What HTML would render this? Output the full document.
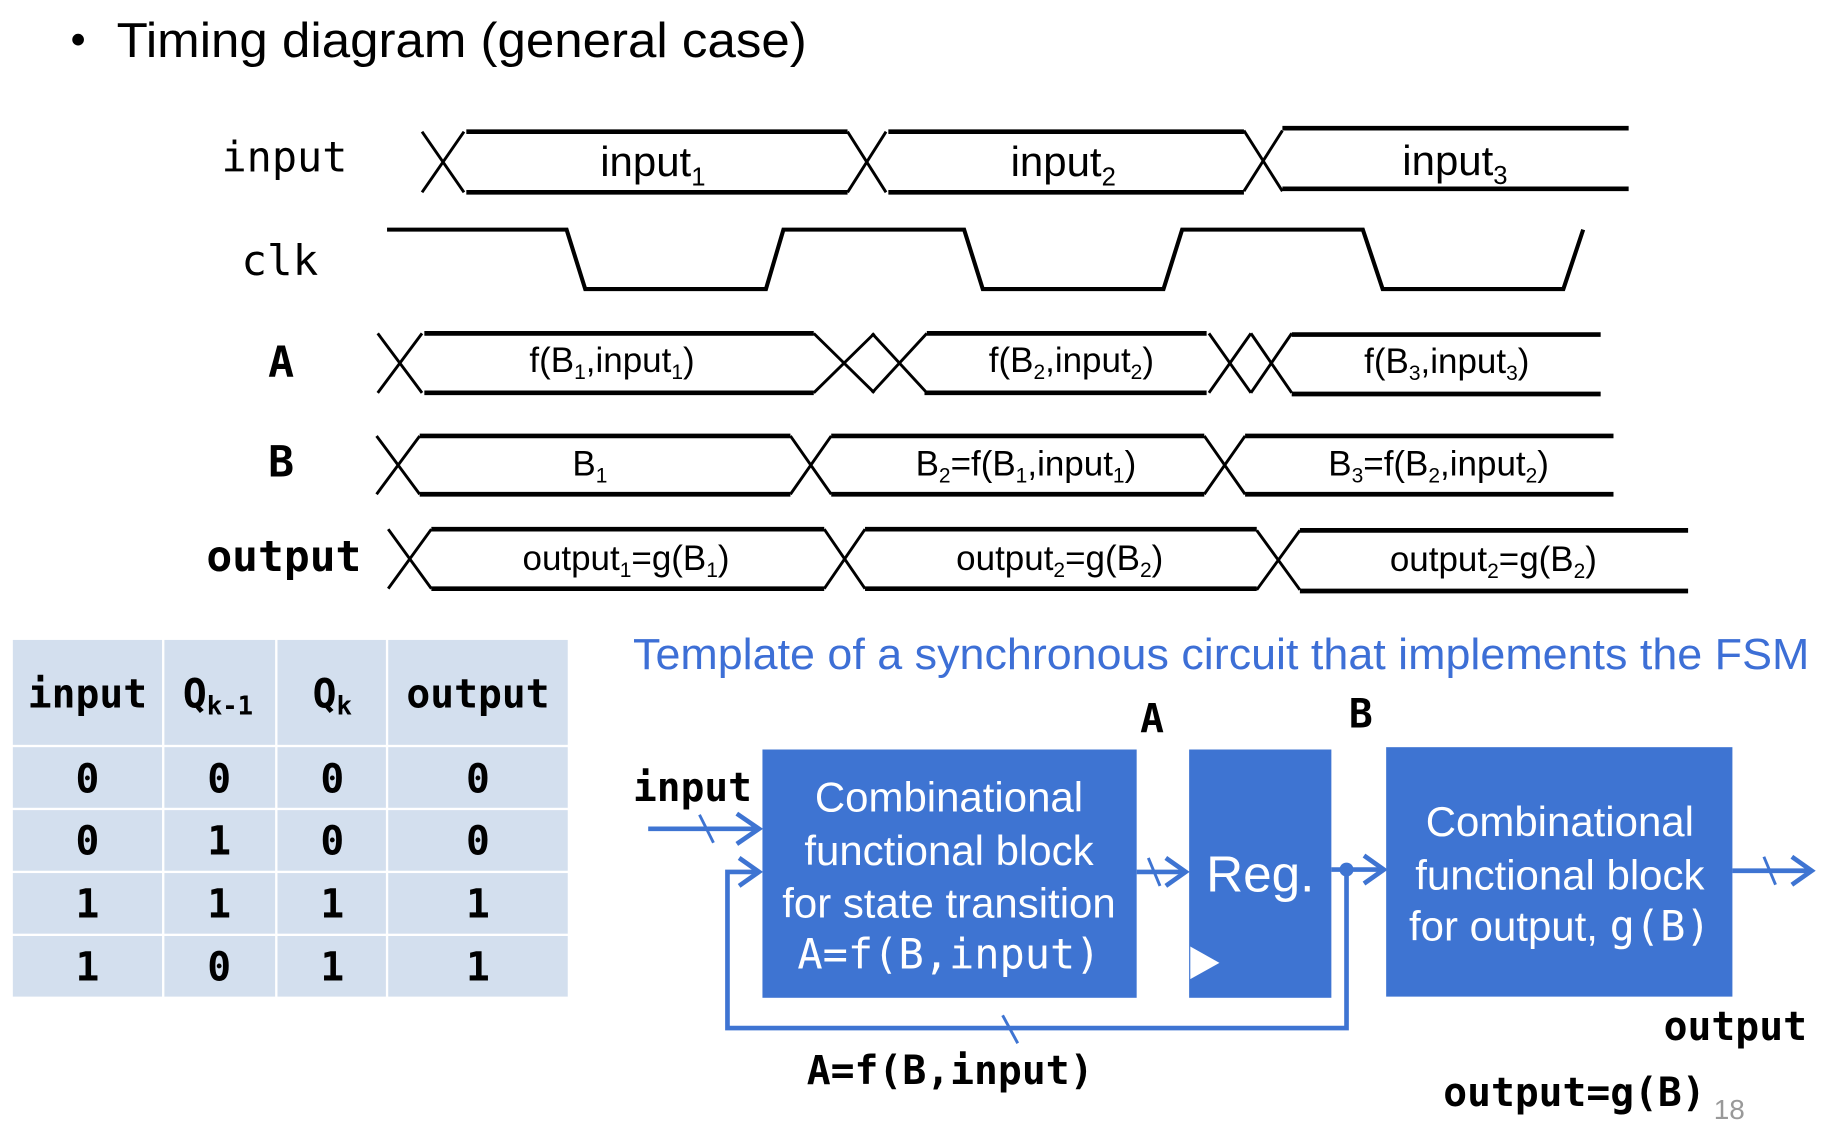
<!DOCTYPE html>
<html><head><meta charset="utf-8"><style>
html,body{margin:0;padding:0;background:#fff;}
svg{display:block;}
.s{font-family:"Liberation Sans",Arial,sans-serif;}
.m{font-family:"DejaVu Sans Mono","Liberation Mono",monospace;}
</style></head><body>
<svg width="1828" height="1140" viewBox="0 0 1568 978" preserveAspectRatio="none" xmlns="http://www.w3.org/2000/svg">
<rect width="1568" height="978" fill="#fff"/>
<circle cx="67" cy="34" r="5" fill="#000"/>
<text class="s" x="100" y="49" font-size="42" textLength="592" lengthAdjust="spacingAndGlyphs">Timing diagram (general case)</text>

<g class="m" font-size="36">
<text x="190" y="147" textLength="108" lengthAdjust="spacingAndGlyphs">input</text>
<text x="207" y="236" textLength="66" lengthAdjust="spacingAndGlyphs">clk</text>
</g>
<g class="m" font-size="37" font-weight="bold">
<text x="230" y="323">A</text>
<text x="230" y="409">B</text>
<text x="177" y="490" textLength="133" lengthAdjust="spacingAndGlyphs">output</text>
</g>

<g stroke="#000" fill="none" stroke-width="4">
<!-- input row -->
<path d="M400 113H727M400 165H727M762 113H1067M762 165H1067M1100 110H1397M1100 162H1397"/>
<!-- clk -->
<path stroke-width="3.5" d="M332 197H486L502 248H657L672 197H827L843 248H998L1014 197H1169L1186 248H1341L1358 197"/>
<!-- A -->
<path d="M364 286H698M364 337H698M795 286H1035M793 337H1035M1108 287H1373M1108 338H1373"/>
<!-- B -->
<path d="M360 374H678M360 424H678M713 374H1033M713 424H1033M1068 374H1384M1068 424H1384"/>
<!-- output -->
<path d="M370 454H707M370 505H707M742 454H1078M742 505H1078M1115 455H1448M1115 507H1448"/>
</g>
<g stroke="#000" fill="none" stroke-width="2.5">
<path d="M362 113L398 165M362 165L398 113M727 113L760 165M727 165L760 113M1067 112L1100 164M1067 164L1100 112"/>
<path d="M324 286L362 337M324 337L362 286M698 286L750 337M698 337L750 286M748 286L795 337M748 337L795 286M1037 286L1073 337M1037 337L1073 286M1073 286L1108 337M1073 337L1108 286"/>
<path d="M323 374L360 424M323 424L360 374M678 374L713 424M678 424L713 374M1033 374L1068 424M1033 424L1068 374"/>
<path d="M333 454L370 505M333 505L370 454M707 454L742 505M707 505L742 454M1078 455L1115 506M1078 506L1115 455"/>
</g>

<g class="s" font-size="36" text-anchor="middle">
<text x="560" y="151">input<tspan font-size="22" dy="8">1</tspan></text>
<text x="912" y="151">input<tspan font-size="22" dy="8">2</tspan></text>
<text x="1248" y="150">input<tspan font-size="22" dy="8">3</tspan></text>
</g>
<g class="s" font-size="30" text-anchor="middle">
<text x="525" y="319">f(B<tspan font-size="18" dy="6">1</tspan><tspan dy="-6">,input</tspan><tspan font-size="18" dy="6">1</tspan><tspan dy="-6">)</tspan></text>
<text x="919" y="319">f(B<tspan font-size="18" dy="6">2</tspan><tspan dy="-6">,input</tspan><tspan font-size="18" dy="6">2</tspan><tspan dy="-6">)</tspan></text>
<text x="1241" y="320">f(B<tspan font-size="18" dy="6">3</tspan><tspan dy="-6">,input</tspan><tspan font-size="18" dy="6">3</tspan><tspan dy="-6">)</tspan></text>
<text x="506" y="408">B<tspan font-size="18" dy="6">1</tspan></text>
<text x="880" y="408">B<tspan font-size="18" dy="6">2</tspan><tspan dy="-6">=f(B</tspan><tspan font-size="18" dy="6">1</tspan><tspan dy="-6">,input</tspan><tspan font-size="18" dy="6">1</tspan><tspan dy="-6">)</tspan></text>
<text x="1234" y="408">B<tspan font-size="18" dy="6">3</tspan><tspan dy="-6">=f(B</tspan><tspan font-size="18" dy="6">2</tspan><tspan dy="-6">,input</tspan><tspan font-size="18" dy="6">2</tspan><tspan dy="-6">)</tspan></text>
<text x="537" y="489">output<tspan font-size="18" dy="6">1</tspan><tspan dy="-6">=g(B</tspan><tspan font-size="18" dy="6">1</tspan><tspan dy="-6">)</tspan></text>
<text x="909" y="489">output<tspan font-size="18" dy="6">2</tspan><tspan dy="-6">=g(B</tspan><tspan font-size="18" dy="6">2</tspan><tspan dy="-6">)</tspan></text>
<text x="1281" y="490">output<tspan font-size="18" dy="6">2</tspan><tspan dy="-6">=g(B</tspan><tspan font-size="18" dy="6">2</tspan><tspan dy="-6">)</tspan></text>
</g>

<!-- table -->
<g fill="#d3dfee">
<rect x="11" y="549" width="128" height="90"/><rect x="141" y="549" width="95" height="90"/><rect x="238" y="549" width="93" height="90"/><rect x="333" y="549" width="154" height="90"/>
<rect x="11" y="641" width="128" height="52"/><rect x="141" y="641" width="95" height="52"/><rect x="238" y="641" width="93" height="52"/><rect x="333" y="641" width="154" height="52"/>
<rect x="11" y="695" width="128" height="52"/><rect x="141" y="695" width="95" height="52"/><rect x="238" y="695" width="93" height="52"/><rect x="333" y="695" width="154" height="52"/>
<rect x="11" y="749" width="128" height="52"/><rect x="141" y="749" width="95" height="52"/><rect x="238" y="749" width="93" height="52"/><rect x="333" y="749" width="154" height="52"/>
<rect x="11" y="803" width="128" height="52"/><rect x="141" y="803" width="95" height="52"/><rect x="238" y="803" width="93" height="52"/><rect x="333" y="803" width="154" height="52"/>
</g>
<g class="m" font-weight="bold" font-size="34" text-anchor="middle">
<text x="75" y="607">input</text>
<text x="187" y="607">Q<tspan font-size="22" dy="6">k-1</tspan></text>
<text x="285" y="607">Q<tspan font-size="22" dy="6">k</tspan></text>
<text x="410" y="607">output</text>
<text x="75" y="680">0</text><text x="188" y="680">0</text><text x="285" y="680">0</text><text x="410" y="680">0</text>
<text x="75" y="733">0</text><text x="188" y="733">1</text><text x="285" y="733">0</text><text x="410" y="733">0</text>
<text x="75" y="787">1</text><text x="188" y="787">1</text><text x="285" y="787">1</text><text x="410" y="787">1</text>
<text x="75" y="841">1</text><text x="188" y="841">0</text><text x="285" y="841">1</text><text x="410" y="841">1</text>
</g>

<text class="s" x="543" y="574" font-size="37" fill="#3d6fd6" textLength="1009" lengthAdjust="spacingAndGlyphs">Template of a synchronous circuit that implements the FSM</text>

<g class="m" font-weight="bold" font-size="34">
<text x="978" y="628">A</text>
<text x="1157" y="624">B</text>
<text x="543" y="687" textLength="102" lengthAdjust="spacingAndGlyphs">input</text>
<text x="1427" y="892" textLength="123" lengthAdjust="spacingAndGlyphs">output</text>
<text x="692" y="930" textLength="246" lengthAdjust="spacingAndGlyphs">A=f(B,input)</text>
<text x="1238" y="949" textLength="225" lengthAdjust="spacingAndGlyphs">output=g(B)</text>
</g>
<text class="s" x="1470" y="960" font-size="24" fill="#999">18</text>

<g fill="#3e74d2">
<rect x="654" y="643" width="321" height="213"/>
<rect x="1020" y="643" width="122" height="213"/>
<rect x="1189" y="641" width="297" height="214"/>
</g>
<polygon points="1021,812 1046,826 1021,840" fill="#fff"/>
<g fill="#fff" text-anchor="middle">
<text class="s" x="814" y="696" font-size="36">Combinational</text>
<text class="s" x="814" y="742" font-size="36">functional block</text>
<text class="s" x="814" y="787" font-size="36">for state transition</text>
<text class="m" x="814" y="831" font-size="36">A=f(B,input)</text>
<text class="s" x="1081" y="765" font-size="44">Reg.</text>
<text class="s" x="1338" y="717" font-size="36">Combinational</text>
<text class="s" x="1338" y="763" font-size="36">functional block</text>
<text class="s" x="1338" y="807" font-size="36"><tspan>for output, </tspan><tspan class="m">g(B)</tspan></text>
</g>

<g stroke="#3e74d2" fill="none" stroke-width="4">
<path d="M556 711H650"/>
<path d="M632 698L651 711L632 724"/>
<path d="M1155 746V882H624V748H650"/>
<path d="M634 736L651 748L634 760"/>
<path d="M975 748H1016"/>
<path d="M1000 736L1017 748L1000 760"/>
<path d="M1142 746H1186"/>
<path d="M1170 734L1187 746L1170 758"/>
<path d="M1486 747H1553"/>
<path d="M1537 735L1554 747L1537 759"/>
</g>
<g stroke="#3e74d2" fill="none" stroke-width="2.5">
<path d="M600 699L612 723"/>
<path d="M985 736L995 760"/>
<path d="M1513 735L1523 759"/>
<path d="M860 871L873 895"/>
</g>
<circle cx="1155" cy="746" r="6" fill="#3e74d2"/>
</svg>
</body></html>
